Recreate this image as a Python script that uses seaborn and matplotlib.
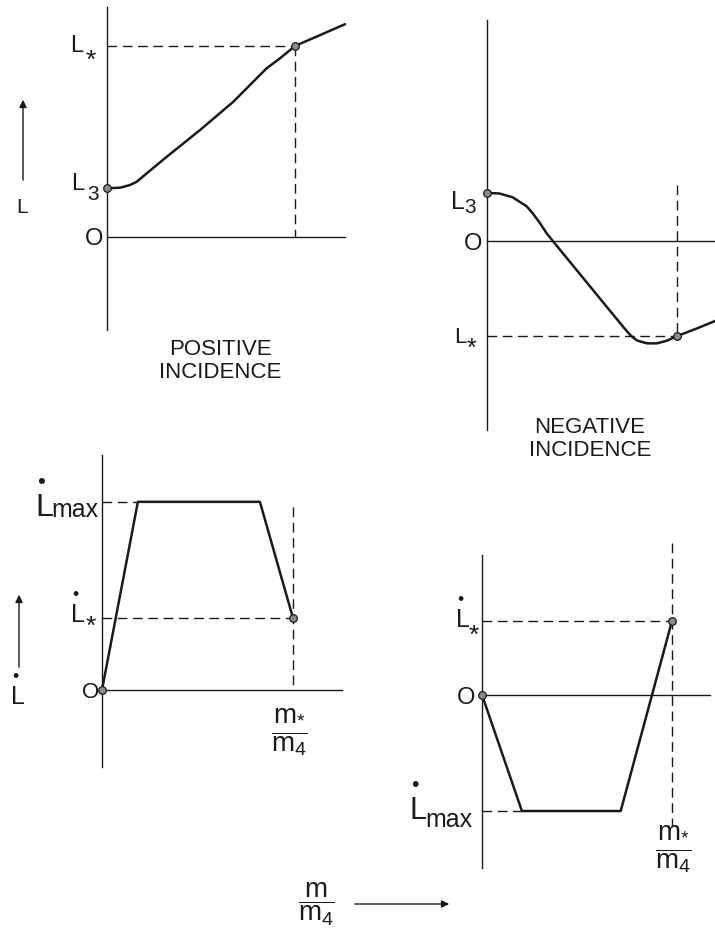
import matplotlib
matplotlib.use("Agg")
import matplotlib.pyplot as plt
import seaborn as sns
import pandas as pd

# ---------------- data ----------------
# Top-left: positive incidence, L versus m/m4 (m* = 1, L* = 1)
pos_x = [0.0, 0.069, 0.122, 0.158, 0.211, 0.318, 0.495, 0.672, 0.778, 0.849, 0.920, 1.0, 1.115, 1.266]
pos_L = [0.255, 0.258, 0.272, 0.289, 0.333, 0.420, 0.560, 0.708, 0.813, 0.883, 0.935, 1.0, 1.049, 1.114]
pos_L3 = 0.255
pos_Lstar = 1.0

# Top-right: negative incidence, L versus m/m4 (m* = 1, L* = -1)
neg_x = [0.0, 0.065, 0.134, 0.208, 0.240, 0.277, 0.314, 0.347, 0.541, 0.722, 0.759, 0.790,
         0.841, 0.894, 0.947, 1.0, 1.106, 1.203]
neg_L = [0.508, 0.502, 0.463, 0.368, 0.295, 0.195, 0.082, 0.0, -0.474, -0.916, -1.0, -1.047,
         -1.077, -1.077, -1.049, -1.0, -0.919, -0.839]
neg_L3 = 0.508
neg_Lstar = -1.0
neg_star_dash_top = 0.59

# Bottom-left: positive incidence, L-dot versus m/m4
prate_x = [0.0, 0.188, 0.827, 1.0]
prate_y = [0.0, 2.61, 2.61, 1.0]
prate_max = 2.61
prate_star = 1.0
prate_dash_top = 2.54

# Bottom-right: negative incidence, L-dot versus m/m4
nrate_x = [0.0, 0.21, 0.73, 1.0]
nrate_y = [0.0, -1.57, -1.57, 1.0]
nrate_max = -1.57
nrate_star = 1.0
nrate_dash_span = [2.05, -1.78]

m_star = 1.0

# ---------------- style ----------------
sns.set_style("white")
plt.rcParams['font.family'] = ['Liberation Sans', 'DejaVu Sans']
plt.rcParams['mathtext.fontset'] = 'custom'
plt.rcParams['mathtext.rm'] = 'Liberation Sans'
plt.rcParams['mathtext.it'] = 'Liberation Sans'
plt.rcParams['mathtext.bf'] = 'Liberation Sans:bold'
plt.rcParams['mathtext.sf'] = 'Liberation Sans'
plt.rcParams['mathtext.default'] = 'regular'

W, H = 715, 931
fig = plt.figure(figsize=(W / 100, H / 100), dpi=100)
fig.patch.set_facecolor('white')

INK = '#1a1a1a'
CURVE_LW = 1.8
AX_LW = 1.0
DASH = dict(color=INK, lw=1.0, ls=(0, (7, 4)))


def make_ax(left, right, top, bottom, xlim, ylim):
    ax = fig.add_axes([left / W, 1 - bottom / H, (right - left) / W, (bottom - top) / H])
    ax.set_xlim(*xlim)
    ax.set_ylim(*ylim)
    for s in ['top', 'right']:
        ax.spines[s].set_visible(False)
    ax.spines['left'].set_position(('data', 0))
    ax.spines['bottom'].set_position(('data', 0))
    for s in ['left', 'bottom']:
        ax.spines[s].set_color(INK)
        ax.spines[s].set_linewidth(AX_LW)
    ax.set_xticks([])
    ax.set_yticks([])
    ax.patch.set_alpha(0)
    return ax


def curve(ax, xs, ys):
    df = pd.DataFrame({'x': xs, 'y': ys})
    sns.lineplot(data=df, x='x', y='y', ax=ax, color=INK, lw=CURVE_LW, sort=False,
                 estimator=None, clip_on=False)
    ax.set_xlabel('')
    ax.set_ylabel('')


def dots(ax, xs, ys):
    df = pd.DataFrame({'x': xs, 'y': ys})
    sns.scatterplot(data=df, x='x', y='y', ax=ax, s=30, color='#8a8a8a',
                    edgecolor=INK, linewidth=0.9, zorder=5, clip_on=False)
    ax.set_xlabel('')
    ax.set_ylabel('')


def T(text, x, y, fs, ha='left', va='baseline'):
    """Place a piece of lettering at image pixel position (x, y)."""
    fig.text(x / W, 1 - y / H, text, ha=ha, va=va, fontsize=fs, color=INK)


def star(x_left, y_bottom, fs=19):
    # asterisk glyph sits ~0.43 em above the baseline
    T('*', x_left, y_bottom + 0.43 * fs * 100 / 72, fs)


# L with a dot above its stem (L-dot), as one piece of text
LDOT = '$\\overset{\u2022\\;}{L}$'
FRAC = r'$\dfrac{m_{*}}{m_4}$'

# ---- top-left ----
ax1 = make_ax(107, 345, 7, 330, (0, 1.266), (-0.487, 1.204))
ax1.plot([0, m_star], [pos_Lstar, pos_Lstar], **DASH)
ax1.plot([m_star, m_star], [pos_Lstar, 0], **DASH)
curve(ax1, pos_x, pos_L)
dots(ax1, [0, m_star], [pos_L3, pos_Lstar])
T('L', 70, 52, 17)
star(86, 57)
T('L', 71, 190, 17)
T('3', 87, 200, 15)
T('O', 94.5, 245, 17, ha='center')

# ---- top-right ----
ax2 = make_ax(487, 715, 20, 430, (0, 1.2), (-1.99, 2.33))
ax2.plot([0, m_star], [neg_Lstar, neg_Lstar], **DASH)
ax2.plot([m_star, m_star], [neg_star_dash_top, neg_Lstar], **DASH)
curve(ax2, neg_x, neg_L)
dots(ax2, [0, m_star], [neg_L3, neg_Lstar])
T('L', 451, 209, 18)
T('3', 464, 213, 15)
T('O', 473.5, 250, 17, ha='center')
T('L', 454, 343, 16)
star(467, 345, 18)

# ---- bottom-left ----
ax3 = make_ax(102, 342, 455, 767, (0, 1.257), (-1.07, 3.26))
ax3.plot([0, prate_x[1]], [prate_max, prate_max], **DASH)
ax3.plot([0, m_star], [prate_star, prate_star], **DASH)
ax3.plot([m_star, m_star], [prate_dash_top, 0], **DASH)
curve(ax3, prate_x, prate_y)
dots(ax3, [0, m_star], [0, prate_star])
T(LDOT, 35, 517, 23)
T('max', 51, 517, 18)
T(LDOT, 70, 623, 18)
star(86, 623)
T('O', 90.5, 698, 16, ha='center')
T(FRAC, 289, 732, 20, ha='center', va='center')

# ---- bottom-right ----
ax4 = make_ax(482, 710, 555, 868, (0, 1.2), (-2.34, 1.89))
ax4.plot([0, m_star], [nrate_star, nrate_star], **DASH)
ax4.plot([0, nrate_x[1]], [nrate_max, nrate_max], **DASH)
ax4.plot([m_star, m_star], nrate_dash_span, clip_on=False, **DASH)
curve(ax4, nrate_x, nrate_y)
dots(ax4, [0, m_star], [0, nrate_star])
T(LDOT, 455, 628, 18)
star(469, 632)
T('O', 466.5, 704, 17, ha='center')
T(LDOT, 409, 820, 22)
T('max', 425, 827, 18)
T(FRAC, 673, 849, 20, ha='center', va='center')

# ---- titles ----
fig.text(220 / W, 1 - 361 / H, 'POSITIVE\nINCIDENCE', ha='center', va='center',
         multialignment='center', fontsize=16, color=INK, linespacing=1.15)
fig.text(590 / W, 1 - 439 / H, 'NEGATIVE\nINCIDENCE', ha='center', va='center',
         multialignment='center', fontsize=16, color=INK, linespacing=1.15)

# ---- axis direction arrows and symbols ----
arrow = dict(arrowstyle='-|>', lw=1.0, color=INK, mutation_scale=11)
fig.add_artist(plt.Annotation('', xy=(23, H - 97), xytext=(23, H - 183),
                              xycoords='figure pixels', textcoords='figure pixels',
                              arrowprops=arrow))
T('L', 16, 213, 15)

fig.add_artist(plt.Annotation('', xy=(19, H - 592), xytext=(19, H - 670),
                              xycoords='figure pixels', textcoords='figure pixels',
                              arrowprops=arrow))
T(LDOT, 10, 705, 18)

fig.add_artist(plt.Annotation('', xy=(452, H - 904), xytext=(352, H - 904),
                              xycoords='figure pixels', textcoords='figure pixels',
                              arrowprops=arrow))
T(r'$\dfrac{m}{m_4}$', 316, 904, 20, ha='center', va='center')

fig.savefig('out.png', dpi=100, facecolor='white')
